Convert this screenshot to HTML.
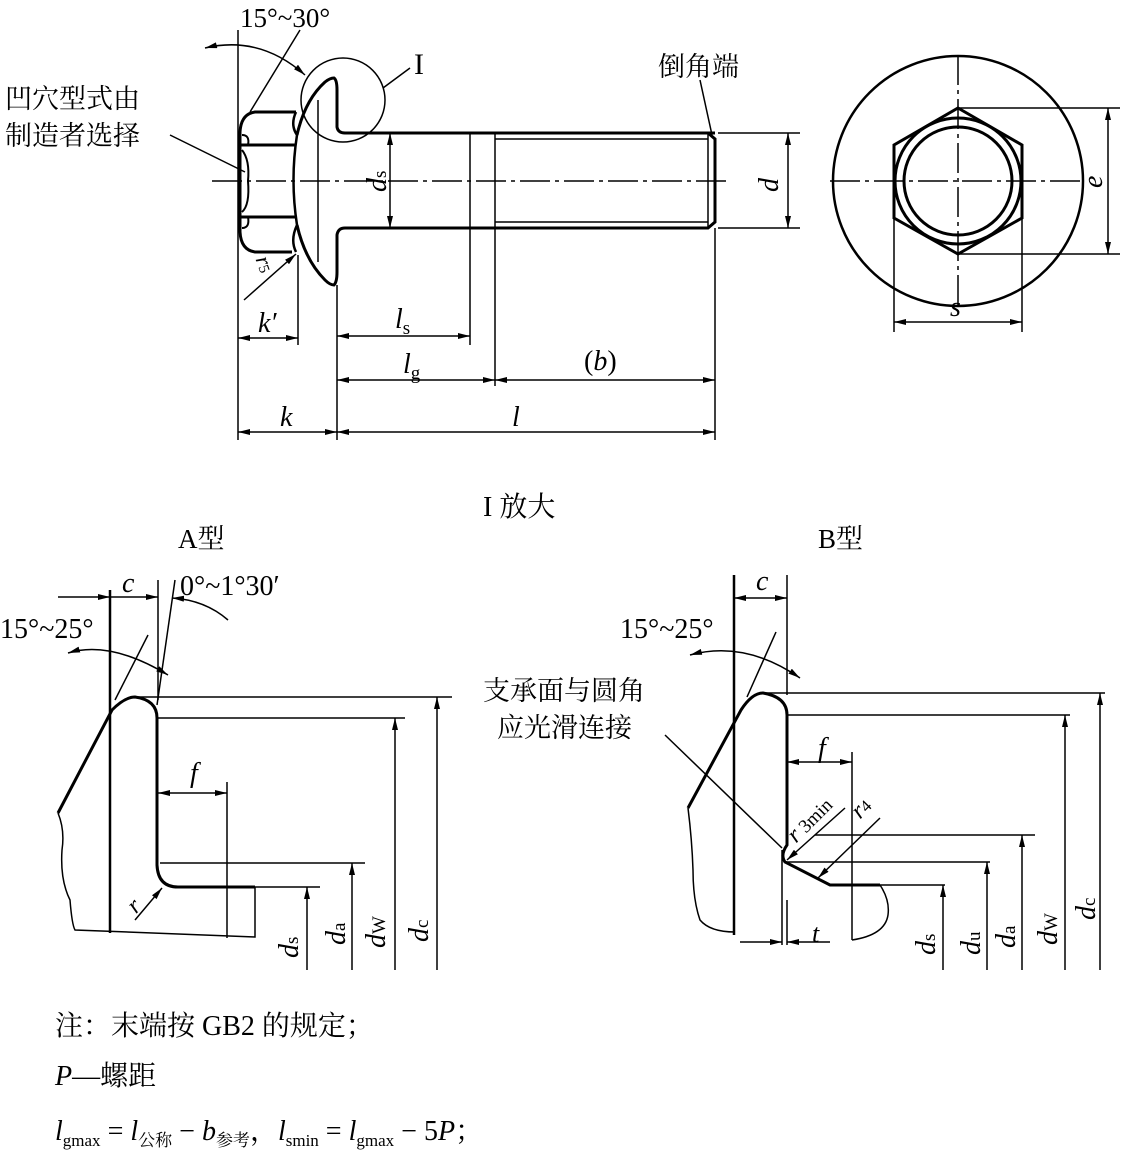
<!DOCTYPE html>
<html><head><meta charset="utf-8"><style>
html,body{margin:0;padding:0;background:#fff;}
svg{display:block;}
text{font-family:"Liberation Serif","Noto Serif CJK SC",serif;fill:#000;}
.cn{font-family:"Liberation Serif","Noto Serif CJK SC",serif;}
</style></head><body>
<svg width="1125" height="1150" viewBox="0 0 1125 1150" xmlns="http://www.w3.org/2000/svg">
<defs>
<marker id="a" viewBox="0 0 12 6" refX="12" refY="3" markerWidth="12" markerHeight="6" orient="auto-start-reverse" markerUnits="userSpaceOnUse"><path d="M0,0 L12,3 L0,6 Z" fill="#000"/></marker>
</defs>
<g fill="none" stroke="#000">
<g stroke-width="3">
<path d="M296,112 L255,112 Q241,114 240,132 L240,232 Q241,250 255,252 L292,252"/>
<path d="M240,145 L296,145 M240,217 L296,217"/>
<path d="M296,112 Q290,125 297,135 Q290,180 297,225 Q290,240 296,252" stroke-width="2.5"/>
<path d="M242,135 Q250,135 248,145 M242,228 Q250,228 248,217 M242,150 Q250,160 248,181 Q250,205 242,212" stroke-width="2"/>
<path d="M297,135 Q305,100 325,82 Q330,78 334,78 Q337,80 337,90 L337,127 Q338,133 345,133 L715,133"/>
<path d="M297,225 Q305,260 325,280 Q330,285 334,285 Q337,282 337,272 L337,235 Q338,228 345,228 L708,228 L715,222 L715,139 L708,133"/>
</g>
<g stroke-width="1.5">
<line x1="318" y1="100" x2="318" y2="262"/>
<line x1="495" y1="139" x2="708" y2="139"/>
<line x1="495" y1="222" x2="708" y2="222"/>
<line x1="708" y1="133" x2="708" y2="228"/>
<line x1="495" y1="133" x2="495" y2="386"/>
<line x1="470" y1="133" x2="470" y2="345"/>
<circle cx="343" cy="100" r="42"/>
<line x1="383" y1="88" x2="410" y2="68"/>
<line x1="212" y1="181" x2="730" y2="181" stroke-dasharray="30,5,4,5"/>
<line x1="238" y1="30" x2="238" y2="440"/>
<line x1="298" y1="255" x2="298" y2="345"/>
<line x1="337" y1="285" x2="337" y2="440"/>
<line x1="715" y1="228" x2="715" y2="440"/>
<line x1="718" y1="133" x2="800" y2="133"/>
<line x1="718" y1="228" x2="800" y2="228"/>
<line x1="250" y1="112" x2="300" y2="30"/>
<line x1="238" y1="338" x2="298" y2="338" marker-start="url(#a)" marker-end="url(#a)"/>
<line x1="337" y1="336" x2="470" y2="336" marker-start="url(#a)" marker-end="url(#a)"/>
<line x1="337" y1="380" x2="495" y2="380" marker-start="url(#a)" marker-end="url(#a)"/>
<line x1="495" y1="380" x2="715" y2="380" marker-start="url(#a)" marker-end="url(#a)"/>
<line x1="238" y1="432" x2="337" y2="432" marker-start="url(#a)" marker-end="url(#a)"/>
<line x1="337" y1="432" x2="715" y2="432" marker-start="url(#a)" marker-end="url(#a)"/>
<line x1="390" y1="133" x2="390" y2="228" marker-start="url(#a)" marker-end="url(#a)"/>
<line x1="788" y1="133" x2="788" y2="228" marker-start="url(#a)" marker-end="url(#a)"/>
<path d="M205,48 Q260,35 305,75" marker-start="url(#a)" marker-end="url(#a)"/>
<line x1="170" y1="135" x2="245" y2="172"/>
<line x1="244" y1="300" x2="296" y2="254" marker-end="url(#a)"/>
<line x1="700" y1="80" x2="712" y2="135"/>
<circle cx="958" cy="181" r="125" stroke-width="2.5"/>
<polygon points="958,108 1022,145 1022,218 958,254 894,218 894,145" stroke-width="3"/>
<circle cx="958" cy="181" r="63" stroke-width="3"/>
<circle cx="958" cy="181" r="54" stroke-width="3"/>
<line x1="830" y1="181" x2="1085" y2="181" stroke-dasharray="30,5,4,5"/>
<line x1="958" y1="55" x2="958" y2="305" stroke-dasharray="30,5,4,5"/>
<line x1="958" y1="108" x2="1120" y2="108"/>
<line x1="958" y1="254" x2="1120" y2="254"/>
<line x1="1108" y1="108" x2="1108" y2="254" marker-start="url(#a)" marker-end="url(#a)"/>
<line x1="894" y1="218" x2="894" y2="332"/>
<line x1="1022" y1="218" x2="1022" y2="332"/>
<line x1="894" y1="322" x2="1022" y2="322" marker-start="url(#a)" marker-end="url(#a)"/>
</g>

<path d="M58,813 L112,710 Q125,697 135,697 Q157,700 157,718 L157,865 Q158,887 178,887 L255,887" stroke-width="3"/>
<g stroke-width="1.5">
<path d="M58,813 Q65,830 62,850 Q60,880 70,900 Q72,925 75,930 L255,937 L255,887"/>
<line x1="110" y1="590" x2="110" y2="933" stroke-width="2.5"/>
<line x1="158" y1="580" x2="158" y2="700"/>
<line x1="227" y1="782" x2="227" y2="938"/>
<line x1="157" y1="705" x2="175" y2="580"/>
<line x1="115" y1="700" x2="148" y2="635"/>
<line x1="130" y1="697" x2="452" y2="697"/>
<line x1="158" y1="718" x2="405" y2="718"/>
<line x1="160" y1="863" x2="365" y2="863"/>
<line x1="250" y1="887" x2="320" y2="887"/>
<line x1="437" y1="970" x2="437" y2="697" marker-end="url(#a)"/>
<line x1="395" y1="970" x2="395" y2="718" marker-end="url(#a)"/>
<line x1="352" y1="970" x2="352" y2="863" marker-end="url(#a)"/>
<line x1="307" y1="970" x2="307" y2="887" marker-end="url(#a)"/>
<line x1="158" y1="793" x2="227" y2="793" marker-start="url(#a)" marker-end="url(#a)"/>
<line x1="58" y1="597" x2="110" y2="597" marker-end="url(#a)"/>
<line x1="110" y1="597" x2="158" y2="597" marker-end="url(#a)"/>
<path d="M68,653 Q110,640 168,675" marker-start="url(#a)" marker-end="url(#a)"/>
<path d="M172,598 Q205,600 228,620" marker-start="url(#a)"/>
<line x1="135" y1="920" x2="162" y2="888" marker-end="url(#a)"/>
</g>

<path d="M688,808 L741,710 Q752,693 763,693 Q787,697 787,715 L787,845 Q780,855 785,862 L830,885 L880,885" stroke-width="3"/>
<g stroke-width="1.5">
<path d="M688,808 Q692,840 693,870 Q693,900 700,920 Q710,932 735,932"/>
<path d="M880,885 Q890,900 888,915 Q885,935 852,940"/>
<line x1="734" y1="575" x2="734" y2="935" stroke-width="2.5"/>
<line x1="787" y1="575" x2="787" y2="695"/>
<line x1="782" y1="850" x2="782" y2="945"/>
<line x1="787" y1="900" x2="787" y2="945"/>
<line x1="852" y1="752" x2="852" y2="940"/>
<line x1="747" y1="697" x2="776" y2="632"/>
<line x1="763" y1="693" x2="1105" y2="693"/>
<line x1="787" y1="715" x2="1070" y2="715"/>
<line x1="815" y1="835" x2="1035" y2="835"/>
<line x1="785" y1="862" x2="990" y2="862"/>
<line x1="870" y1="885" x2="945" y2="885"/>
<line x1="1100" y1="970" x2="1100" y2="693" marker-end="url(#a)"/>
<line x1="1065" y1="970" x2="1065" y2="715" marker-end="url(#a)"/>
<line x1="1022" y1="970" x2="1022" y2="835" marker-end="url(#a)"/>
<line x1="987" y1="970" x2="987" y2="862" marker-end="url(#a)"/>
<line x1="943" y1="970" x2="943" y2="885" marker-end="url(#a)"/>
<line x1="734" y1="598" x2="787" y2="598" marker-start="url(#a)" marker-end="url(#a)"/>
<line x1="787" y1="762" x2="852" y2="762" marker-start="url(#a)" marker-end="url(#a)"/>
<line x1="740" y1="942" x2="782" y2="942" marker-end="url(#a)"/>
<line x1="830" y1="942" x2="787" y2="942" marker-end="url(#a)"/>
<path d="M690,655 Q745,640 800,678" marker-start="url(#a)" marker-end="url(#a)"/>
<line x1="845" y1="808" x2="787" y2="860" marker-end="url(#a)"/>
<line x1="880" y1="818" x2="818" y2="878" marker-end="url(#a)"/>
<line x1="665" y1="735" x2="782" y2="848"/>
</g>
</g>

<text x="240" y="27" font-size="27">15°~30°</text>
<text x="414" y="74" font-size="30">I</text>
<text x="5" y="108" font-size="27" class="cn">凹穴型式由</text>
<text x="5" y="145" font-size="27" class="cn">制造者选择</text>
<text x="658" y="76" font-size="27" class="cn">倒角端</text>
<text x="386" y="192" font-size="28" font-style="italic" transform="rotate(-90 386 192)">d<tspan font-size="19" font-style="normal">s</tspan></text>
<text x="778" y="192" font-size="28" font-style="italic" transform="rotate(-90 778 192)">d</text>
<text x="1102" y="188" font-size="28" font-style="italic" transform="rotate(-90 1102 188)">e</text>
<text x="950" y="316" font-size="28" font-style="italic">s</text>
<text x="258" y="332" font-size="28" font-style="italic">k′</text>
<text x="395" y="328" font-size="28" font-style="italic">l<tspan font-size="19" font-style="normal" dy="6">s</tspan></text>
<text x="403" y="373" font-size="28" font-style="italic">l<tspan font-size="19" font-style="normal" dy="6">g</tspan></text>
<text x="584" y="370" font-size="28">(<tspan font-style="italic">b</tspan>)</text>
<text x="280" y="426" font-size="28" font-style="italic">k</text>
<text x="512" y="426" font-size="28" font-style="italic">l</text>
<text x="242" y="258" font-size="22" font-style="italic" transform="rotate(70 248 268)">r<tspan font-size="15" font-style="normal">5</tspan></text>
<text x="483" y="516" font-size="28" class="cn">I 放大</text>
<text x="178" y="548" font-size="27" class="cn">A型</text>
<text x="818" y="548" font-size="27" class="cn">B型</text>
<text x="122" y="592" font-size="28" font-style="italic">c</text>
<text x="180" y="595" font-size="28">0°~1°30′</text>
<text x="0" y="638" font-size="28">15°~25°</text>
<text x="190" y="782" font-size="28" font-style="italic">f</text>
<text x="130" y="910" font-size="24" font-style="italic" transform="rotate(-45 138 905)">r</text>
<text x="298" y="958" font-size="28" font-style="italic" transform="rotate(-90 298 958)">d<tspan font-size="19" font-style="normal">s</tspan></text>
<text x="345" y="945" font-size="28" font-style="italic" transform="rotate(-90 345 945)">d<tspan font-size="19" font-style="normal">a</tspan></text>
<text x="385" y="948" font-size="28" font-style="italic" transform="rotate(-90 385 948)">d<tspan font-size="19" font-style="normal">W</tspan></text>
<text x="428" y="942" font-size="28" font-style="italic" transform="rotate(-90 428 942)">d<tspan font-size="19" font-style="normal">c</tspan></text>
<text x="756" y="590" font-size="28" font-style="italic">c</text>
<text x="620" y="638" font-size="28">15°~25°</text>
<text x="483" y="700" font-size="27" class="cn">支承面与圆角</text>
<text x="497" y="737" font-size="27" class="cn">应光滑连接</text>
<text x="818" y="757" font-size="28" font-style="italic">f</text>
<text x="792" y="842" font-size="24" font-style="italic" transform="rotate(-45 796 838)">r<tspan font-style="normal" font-size="19"> 3min</tspan></text>
<text x="856" y="818" font-size="24" font-style="italic" transform="rotate(-45 860 814)">r<tspan font-style="normal" font-size="17">4</tspan></text>
<text x="812" y="942" font-size="26" font-style="italic">t</text>
<text x="935" y="955" font-size="28" font-style="italic" transform="rotate(-90 935 955)">d<tspan font-size="19" font-style="normal">s</tspan></text>
<text x="980" y="955" font-size="28" font-style="italic" transform="rotate(-90 980 955)">d<tspan font-size="19" font-style="normal">u</tspan></text>
<text x="1015" y="948" font-size="28" font-style="italic" transform="rotate(-90 1015 948)">d<tspan font-size="19" font-style="normal">a</tspan></text>
<text x="1057" y="945" font-size="28" font-style="italic" transform="rotate(-90 1057 945)">d<tspan font-size="19" font-style="normal">W</tspan></text>
<text x="1095" y="920" font-size="28" font-style="italic" transform="rotate(-90 1095 920)">d<tspan font-size="19" font-style="normal">c</tspan></text>
<text x="55" y="1035" font-size="28" class="cn">注：末端按 GB2 的规定；</text>
<text x="55" y="1085" font-size="28"><tspan font-style="italic">P</tspan><tspan>—螺距</tspan></text>
<text x="55" y="1140" font-size="28"><tspan font-style="italic">l</tspan><tspan font-size="17" dy="6">gmax</tspan><tspan dy="-6"> = </tspan><tspan font-style="italic">l</tspan><tspan font-size="17" dy="6">公称</tspan><tspan dy="-6"> − </tspan><tspan font-style="italic">b</tspan><tspan font-size="17" dy="6">参考</tspan><tspan dy="-6">，</tspan><tspan font-style="italic">l</tspan><tspan font-size="17" dy="6">smin</tspan><tspan dy="-6"> = </tspan><tspan font-style="italic">l</tspan><tspan font-size="17" dy="6">gmax</tspan><tspan dy="-6"> − 5</tspan><tspan font-style="italic">P</tspan><tspan>；</tspan></text>
</svg>
</body></html>
